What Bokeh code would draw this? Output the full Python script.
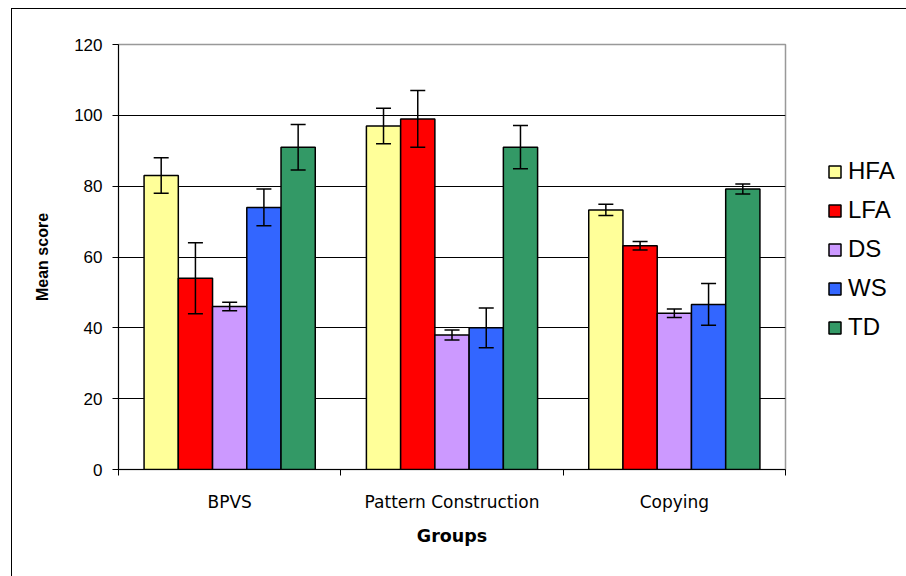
from bokeh.plotting import figure
from bokeh.models import (ColumnDataSource, FixedTicker, Whisker, TeeHead, Legend, LegendItem,
                          Range1d)
from bokeh.embed import file_html
from bokeh.resources import INLINE

# ---- data ----
groups = ["BPVS", "Pattern Construction", "Copying"]
series = ["HFA", "LFA", "DS", "WS", "TD"]
colors = ["#FFFF99", "#FF0000", "#CC99FF", "#3366FF", "#339966"]

hfa_mean = [83.0, 97.0, 73.3]
lfa_mean = [54.0, 99.0, 63.2]
ds_mean = [46.0, 38.0, 44.1]
ws_mean = [74.0, 40.0, 46.6]
td_mean = [91.0, 91.0, 79.2]

hfa_err = [5.0, 5.0, 1.6]
lfa_err = [10.0, 8.0, 1.2]
ds_err = [1.2, 1.4, 1.2]
ws_err = [5.2, 5.6, 5.9]
td_err = [6.4, 6.1, 1.4]

y_ticks = [0, 20, 40, 60, 80, 100, 120]

means = [hfa_mean, lfa_mean, ds_mean, ws_mean, td_mean]
errs = [hfa_err, lfa_err, ds_err, ws_err, td_err]

bar_w = 0.154
centers = [i + 0.5 for i in range(len(groups))]

p = figure(frame_width=667, frame_height=425, output_backend="svg", toolbar_location=None,
           x_range=Range1d(0, len(groups)), y_range=Range1d(0, 120),
           min_border_left=106, min_border_right=121, min_border_top=35, min_border_bottom=107,
           background_fill_color="white", border_fill_color="white")
p.styles = {"margin-left": "11px", "margin-top": "8px",
            "border-left": "1px solid black", "border-top": "1px solid black"}

p.outline_line_color = "#999999"
p.outline_line_width = 1.5

p.xgrid.visible = False
p.ygrid.ticker = FixedTicker(ticks=y_ticks[1:-1])
p.ygrid.grid_line_color = "black"
p.ygrid.grid_line_width = 1

items = []
for k, (name, col, m, e) in enumerate(zip(series, colors, means, errs)):
    xs = [c + (k - (len(series) - 1) / 2) * bar_w for c in centers]
    src = ColumnDataSource(dict(x=xs, top=m,
                                upper=[a + b for a, b in zip(m, e)],
                                lower=[a - b for a, b in zip(m, e)]))
    r = p.vbar(x="x", top="top", bottom=0, width=bar_w, source=src,
               fill_color=col, line_color="black", line_width=1.5)
    items.append(LegendItem(label=name, renderers=[r]))
    w = Whisker(source=src, base="x", upper="upper", lower="lower",
                line_color="black", line_width=1.5, level="overlay",
                upper_head=TeeHead(size=15, line_color="black", line_width=1.5),
                lower_head=TeeHead(size=15, line_color="black", line_width=1.5))
    p.add_layout(w)

legend = Legend(items=items, location=(42, 128), glyph_width=15, glyph_height=15,
                label_text_font="Liberation Sans", label_text_font_size="24px",
                label_text_color="black",
                label_standoff=6, spacing=11, padding=0, margin=0,
                border_line_alpha=0, background_fill_alpha=0)
p.add_layout(legend, "right")

# y axis
ya = p.yaxis[0]
ya.ticker = FixedTicker(ticks=y_ticks)
ya.major_tick_out = 6
ya.major_tick_in = 0
ya.minor_tick_out = 0
ya.minor_tick_in = 0
ya.axis_line_color = "black"
ya.major_tick_line_color = "black"
ya.major_label_text_font = "Liberation Sans"
ya.major_label_text_font_size = "17px"
ya.major_label_text_color = "black"
ya.major_label_standoff = 10
ya.axis_label = "Mean score"
ya.axis_label_text_font = "Liberation Sans"
ya.axis_label_text_font_size = "16px"
ya.axis_label_text_font_style = "bold"
ya.axis_label_text_color = "black"
ya.axis_label_standoff = 20

# x axis
xa = p.xaxis[0]
xa.ticker = FixedTicker(ticks=centers, minor_ticks=list(range(len(groups) + 1)))
xa.major_label_overrides = {c: g for c, g in zip(centers, groups)}
xa.major_tick_out = 0
xa.major_tick_in = 0
xa.minor_tick_out = 6
xa.minor_tick_in = 0
xa.minor_tick_line_color = "black"
xa.axis_line_color = "black"
xa.major_label_text_font = "DejaVu Sans"
xa.major_label_text_font_size = "17px"
xa.major_label_text_color = "black"
xa.major_label_standoff = 16
xa.axis_label = "Groups"
xa.axis_label_text_font = "DejaVu Sans"
xa.axis_label_text_font_size = "17.5px"
xa.axis_label_text_font_style = "bold"
xa.axis_label_text_color = "black"
xa.axis_label_standoff = 11

open("out.html", "w").write(file_html(p, INLINE))
